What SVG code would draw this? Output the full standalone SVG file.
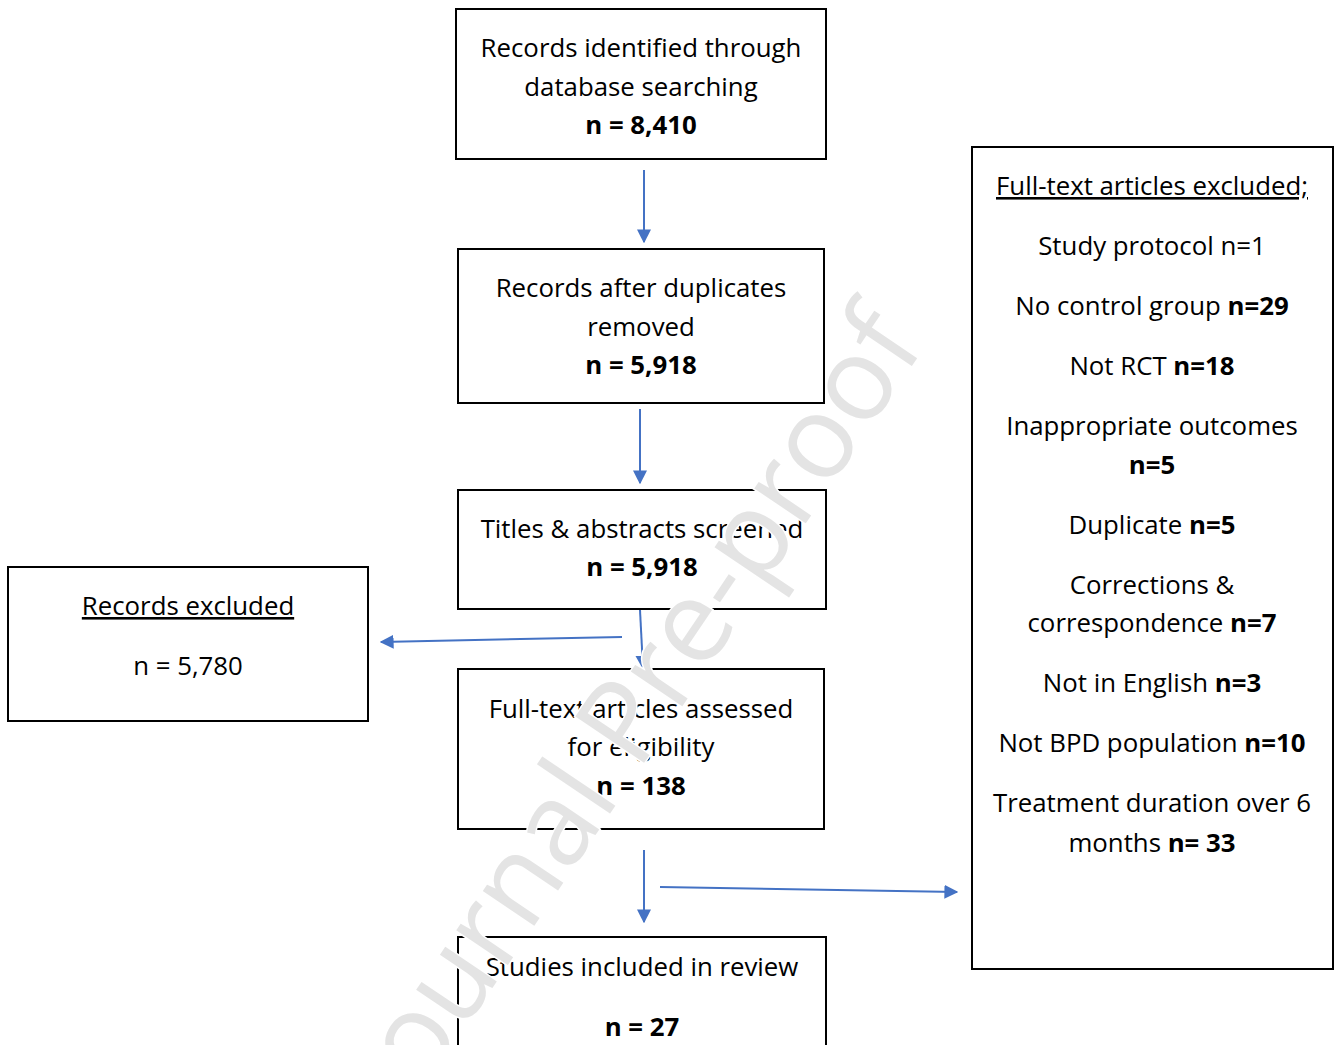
<svg xmlns="http://www.w3.org/2000/svg" width="1341" height="1045" viewBox="0 0 1341 1045">
<defs>
<style>
.box{fill:#fff;stroke:#000;stroke-width:2}
.t{font-family:"Open Sans","Noto Sans","Liberation Sans",sans-serif;font-size:25.8px;fill:#000;text-anchor:middle}
.b{font-weight:bold}
.u{text-decoration:underline}
.c{stroke:#4472C4;stroke-width:2;fill:none}
.wm{font-family:"Open Sans","Liberation Sans",sans-serif;font-size:116px;fill:#e4e4e4;stroke:#fff;stroke-width:3;paint-order:stroke}
</style>
<marker id="ah" viewBox="0 0 10 10" refX="9" refY="5" markerWidth="7" markerHeight="7" markerUnits="strokeWidth" orient="auto">
<path d="M0,0 L10,5 L0,10 z" fill="#4472C4"/>
</marker>
</defs>
<rect width="1341" height="1045" fill="#fff"/>
<g id="n1">
<rect class="box" x="456" y="9" width="370" height="150"/>
<text class="t" x="641" y="57">Records identified through</text>
<text class="t" x="641" y="96">database searching</text>
<text class="t b" x="641" y="134">n = 8,410</text>
</g>
<g id="n2">
<rect class="box" x="458" y="249" width="366" height="154"/>
<text class="t" x="641" y="297">Records after duplicates</text>
<text class="t" x="641" y="336">removed</text>
<text class="t b" x="641" y="374">n = 5,918</text>
</g>
<g id="n3">
<rect class="box" x="458" y="490" width="368" height="119"/>
<text class="t" x="642" y="538">Titles &amp; abstracts screened</text>
<text class="t b" x="642" y="576">n = 5,918</text>
</g>
<g id="n_excl">
<rect class="box" x="8" y="567" width="360" height="154"/>
<text class="t u" x="188" y="615">Records excluded</text>
<text class="t" x="188" y="675">n = 5,780</text>
</g>
<g id="n4">
<rect class="box" x="458" y="669" width="366" height="160"/>
<text class="t" x="641" y="718">Full-text articles assessed</text>
<text class="t" x="641" y="756">for eligibility</text>
<text class="t b" x="641" y="795">n = 138</text>
</g>
<g id="n5">
<rect class="box" x="458" y="937" width="368" height="120"/>
<text class="t" x="642" y="976">Studies included in review</text>
<text class="t b" x="642" y="1036">n = 27</text>
</g>
<g id="n_ft_excl">
<rect class="box" x="972" y="147" width="361" height="822"/>
<text class="t u" x="1152" y="195">Full-text articles excluded;</text>
<text class="t" x="1152" y="255">Study protocol n=1</text>
<text class="t" x="1152" y="315">No control group <tspan class="b">n=29</tspan></text>
<text class="t" x="1152" y="375">Not RCT <tspan class="b">n=18</tspan></text>
<text class="t" x="1152" y="435">Inappropriate outcomes</text>
<text class="t b" x="1152" y="474">n=5</text>
<text class="t" x="1152" y="534">Duplicate <tspan class="b">n=5</tspan></text>
<text class="t" x="1152" y="594">Corrections &amp;</text>
<text class="t" x="1152" y="632">correspondence <tspan class="b">n=7</tspan></text>
<text class="t" x="1152" y="692">Not in English <tspan class="b">n=3</tspan></text>
<text class="t" x="1152" y="752">Not BPD population <tspan class="b">n=10</tspan></text>
<text class="t" x="1152" y="812">Treatment duration over 6</text>
<text class="t" x="1152" y="852">months <tspan class="b">n= 33</tspan></text>
</g>
<g id="connectors">
<line class="c" x1="644" y1="170" x2="644" y2="242" marker-end="url(#ah)"/>
<line class="c" x1="640" y1="409" x2="640" y2="483" marker-end="url(#ah)"/>
<line class="c" x1="640" y1="610" x2="643" y2="668" marker-end="url(#ah)"/>
<line class="c" x1="622" y1="637" x2="381" y2="642" marker-end="url(#ah)"/>
<line class="c" x1="644" y1="850" x2="644" y2="922" marker-end="url(#ah)"/>
<line class="c" x1="660" y1="887" x2="957" y2="892" marker-end="url(#ah)"/>
</g>
<text class="wm" transform="translate(406,1116) rotate(-56)">Journal Pre-proof</text>
</svg>
